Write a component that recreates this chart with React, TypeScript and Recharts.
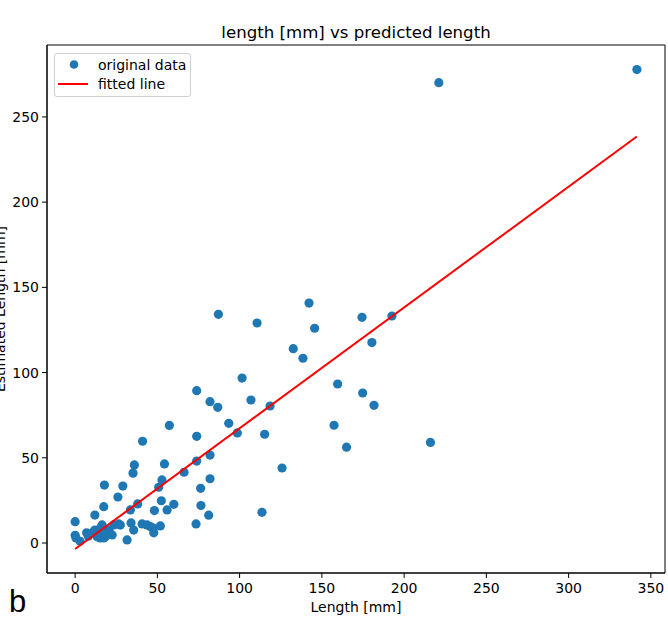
import React from 'react';
import { ScatterChart, Scatter, XAxis, YAxis, ReferenceArea, Legend } from 'recharts';

const lengthMm = [
  0, 0, 0.5, 3, 7, 8, 10.3, 12, 12, 13.4, 14.4, 15.4, 16.4, 17.4, 17.8, 15.2, 17.4, 18.4, 19.4, 20.5,
  21.4, 23.5, 26, 26.5, 27.5, 29, 31.6, 33.6, 34, 35.2, 36, 35.6, 38, 41, 40.7, 43.7, 45.8, 47.8, 47.4, 48.2,
  50.8, 52.8, 51.8, 52.4, 54.3, 55.9, 57.3, 60, 66.2, 73.5, 73.9, 73.9, 76.3, 76.5, 81.2, 82, 82, 82, 86.7, 93.4,
  73.9, 87.1, 110.6, 142.2, 145.6, 132.6, 138.5, 174.4, 192.6, 180.4, 101.5, 106.9, 118.5, 159.6, 174.8, 181.7,
  98.6, 115.2, 157.4, 165, 216, 125.8, 113.6, 221.1, 341.5, 16, 22.5,
];
const estimatedMm = [
  12.5, 4.5, 3, 1, 6, 4, 5.9, 16.4, 7.6, 3.7, 4.7, 8.8, 10.6, 21.3, 34, 3, 3, 3.7, 6, 7.6,
  5.5, 10.6, 27, 11.2, 10.5, 33.4, 1.8, 19.4, 11.8, 41, 45.8, 7.6, 22.9, 59.7, 11.2, 10.6, 9.6, 6, 8.8, 19,
  32.7, 37, 10, 24.8, 46.4, 19.4, 69, 22.7, 41.5, 11.2, 48.1, 62.6, 32.1, 22, 16.3, 37.7, 51.6, 82.9, 79.6, 70.2,
  89.4, 134.2, 129.1, 140.8, 126, 114, 108.4, 132.4, 133.2, 117.6, 96.8, 83.9, 80.4, 93.3, 88, 80.8,
  64.6, 63.8, 69.1, 56.2, 59, 44, 18, 270.1, 277.8, 6.5, 4.7,
];
const fitX = [0, 341.5];
const fitY = [-3.5, 238.5];
const xTicks = [0, 50, 100, 150, 200, 250, 300, 350];
const yTicks = [0, 50, 100, 150, 200, 250];
const xDomain = [-17.1, 358.6];
const yDomain = [-17.6, 292.2];

const points = lengthMm.map((x, i) => ({ x, y: estimatedMm[i] }));
const fitted = fitX.map((x, i) => ({ x, y: fitY[i] }));

const FONT = 'DejaVu Sans, sans-serif';
const BLUE = '#1f77b4';
const RED = '#ff0000';

const Dot = (props: any) => (
  <circle cx={props.cx} cy={props.cy} r={4.6} fill={BLUE} />
);

const NoDot = () => <g />;

const LegendBox = () => (
  <div
    style={{
      position: 'relative',
      width: 137,
      height: 44,
      boxSizing: 'border-box',
      border: '1px solid #d0d0d0',
      borderRadius: 3,
      background: 'rgba(255,255,255,0.8)',
    }}
  >
    <svg width={137} height={44} style={{ position: 'absolute', left: -1, top: -1 }}>
      <circle cx={20} cy={11.5} r={4.3} fill={BLUE} />
      <text x={44} y={16.5} fontSize={14} fontFamily={FONT} fill="#000">original data</text>
      <line x1={4} x2={34} y1={31} y2={31} stroke={RED} strokeWidth={2} />
      <text x={44} y={36} fontSize={14} fontFamily={FONT} fill="#000">fitted line</text>
    </svg>
  </div>
);

export default function App() {
  return (
    <div style={{ position: 'absolute', left: 0, top: 0, background: '#fff' }}>
      <ScatterChart width={668} height={623} margin={{ top: 45, right: 3, bottom: 0, left: 0 }}>
        <XAxis
          type="number"
          dataKey="x"
          domain={xDomain}
          ticks={xTicks}
          allowDataOverflow
          height={50}
          tickSize={5}
          tickMargin={5}
          tickLine={{ stroke: '#000' }}
          axisLine={{ stroke: '#000' }}
          tick={{ fontSize: 14, fill: '#000', fontFamily: FONT }}
        />
        <YAxis
          type="number"
          dataKey="y"
          domain={yDomain}
          ticks={yTicks}
          allowDataOverflow
          width={47}
          tickSize={5}
          tickMargin={3}
          tickLine={{ stroke: '#000' }}
          axisLine={{ stroke: '#000' }}
          tick={{ fontSize: 14, fill: '#000', fontFamily: FONT }}
        />
        <Scatter name="original data" data={points} shape={Dot} isAnimationActive={false} />
        <Scatter
          name="fitted line"
          data={fitted}
          line={{ stroke: RED, strokeWidth: 2 }}
          shape={NoDot}
          isAnimationActive={false}
        />
        <ReferenceArea
          x1={xDomain[0]}
          x2={xDomain[1]}
          y1={yDomain[0]}
          y2={yDomain[1]}
          fill="none"
          fillOpacity={0}
          stroke="#000"
          strokeWidth={1}
          ifOverflow="visible"
        />
        <Legend
          layout="horizontal"
          verticalAlign="middle"
          content={() => <LegendBox />}
          wrapperStyle={{ position: 'absolute', left: 54, top: 53, width: 137, height: 44 }}
        />
        <text x={356} y={38} textAnchor="middle" fontSize={16.6} fontFamily={FONT} fill="#000">
          length [mm] vs predicted length
        </text>
        <text x={356} y={612} textAnchor="middle" fontSize={14} fontFamily={FONT} fill="#000">
          Length [mm]
        </text>
        <text
          x={5}
          y={309}
          textAnchor="middle"
          fontSize={14}
          fontFamily={FONT}
          fill="#000"
          transform="rotate(-90 5 309)"
        >
          Estimated Length [mm]
        </text>
        <text x={9} y={612} fontSize={31} fontFamily="Liberation Sans, Arial, sans-serif" fill="#000">
          b
        </text>
      </ScatterChart>
    </div>
  );
}
